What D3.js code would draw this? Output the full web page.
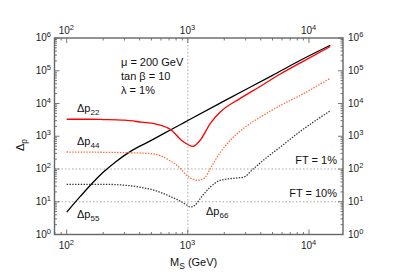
<!DOCTYPE html>
<html lang="en">
<head>
<meta charset="UTF-8">
<title>Fine tuning vs M_S</title>
<script src="https://d3js.org/d3.v7.min.js"></script>
<style>
  body { margin: 0; padding: 0; background: #fff; }
  svg { display: block; font-family: "Liberation Sans", Arial, sans-serif; }
  .tick-label { font-size: 10px; fill: #222; }
  .note { font-size: 11px; fill: #111; }
</style>
</head>
<body>
<svg id="chart"></svg>
<script>
// data (M_S in GeV, Delta values)
const mRed = [100, 150, 200, 300, 417, 537, 738, 890, 1000, 1100, 1260, 1530, 1850, 2690, 3950, 5800, 8500, 15000];
const dRed = [3300, 3300, 3240, 3090, 2690, 2400, 1510, 740, 560, 490, 740, 2450, 5500, 14100, 33100, 79400, 174000, 550000];

const mBlack = [100, 130, 161, 200, 250, 344, 490, 630, 863, 1000, 2000, 5000, 8500, 15000];
const dBlack = [4.8, 14.8, 35.5, 79, 158, 363, 724, 1200, 2240, 3020, 12000, 72400, 209000, 600000];

const mOrange = [100, 200, 300, 388, 537, 700, 863, 980, 1100, 1225, 1390, 1530, 1850, 2230, 2690, 3080, 3950, 5800, 8500, 15000];
const dOrange = [330, 324, 316, 309, 282, 186, 107, 63, 49, 45, 56, 102, 316, 741, 1410, 2090, 3800, 8700, 17800, 59000];

const mDot = [100, 200, 300, 400, 537, 738, 863, 1000, 1050, 1150, 1260, 1530, 1850, 2380, 2870, 3480, 4510, 5800, 8000, 15000];
const dDot = [34, 34, 32, 28, 22, 13.8, 10.5, 7.6, 6.9, 7.9, 12.3, 28, 45, 52, 56, 102, 229, 468, 1200, 6000];

const xMajor = [100, 1000, 10000];
const yMajor = [1, 10, 100, 1000, 10000, 100000, 1000000];
const ftLevels = [100, 10];
const ftLabels = ["FT = 1%", "FT = 10%"];

const width = 393, height = 275;
const pLeft = 54.5, pRight = 343, pTop = 38, pBottom = 234.5;

const svg = d3.select("#chart").attr("width", width).attr("height", height);

const x = d3.scaleLog().domain([79.3, 19100]).range([pLeft, pRight]);
const y = d3.scaleLog().domain([1, 1e6]).range([pBottom, pTop]);

// grid lines (dotted)
svg.selectAll(".hgrid").data(ftLevels).enter().append("line")
  .attr("x1", pLeft).attr("x2", pRight)
  .attr("y1", d => y(d)).attr("y2", d => y(d))
  .attr("stroke", "#aaa").attr("stroke-width", 1).attr("stroke-dasharray", "1.5,2");
svg.append("line")
  .attr("x1", x(1000)).attr("x2", x(1000))
  .attr("y1", pTop).attr("y2", pBottom)
  .attr("stroke", "#aaa").attr("stroke-width", 1).attr("stroke-dasharray", "1.5,2");

// ticks on all four sides, pointing in
const xTicks = x.ticks();
const yTicks = y.ticks();
const isMajor = v => Math.abs(Math.log10(v) - Math.round(Math.log10(v))) < 1e-6;
const tickG = svg.append("g").attr("stroke", "#555").attr("stroke-width", 0.8);
xTicks.forEach(v => {
  const len = isMajor(v) ? 5 : 2.5;
  tickG.append("line").attr("x1", x(v)).attr("x2", x(v)).attr("y1", pBottom).attr("y2", pBottom - len);
  tickG.append("line").attr("x1", x(v)).attr("x2", x(v)).attr("y1", pTop).attr("y2", pTop + len);
});
yTicks.forEach(v => {
  const len = isMajor(v) ? 5 : 2.5;
  tickG.append("line").attr("y1", y(v)).attr("y2", y(v)).attr("x1", pLeft).attr("x2", pLeft + len);
  tickG.append("line").attr("y1", y(v)).attr("y2", y(v)).attr("x1", pRight).attr("x2", pRight - len);
});

// frame
svg.append("rect")
  .attr("x", pLeft).attr("y", pTop)
  .attr("width", pRight - pLeft).attr("height", pBottom - pTop)
  .attr("fill", "none").attr("stroke", "#666").attr("stroke-width", 1.4);

// power-of-ten labels
function powLabel(sel, v) {
  sel.append("tspan").text("10");
  sel.append("tspan").attr("dy", -4).attr("font-size", "7.5px").text(Math.round(Math.log10(v)));
}
xMajor.forEach(v => {
  svg.append("text").attr("class", "tick-label").attr("x", x(v) - 8).attr("y", 249).call(powLabel, v);
  svg.append("text").attr("class", "tick-label").attr("x", x(v) - 8).attr("y", 34).call(powLabel, v);
});
yMajor.forEach(v => {
  svg.append("text").attr("class", "tick-label").attr("text-anchor", "end")
    .attr("x", 51).attr("y", y(v) + 3).call(powLabel, v);
  svg.append("text").attr("class", "tick-label").attr("x", 348).attr("y", y(v) + 3).call(powLabel, v);
});

// curves
const line = d3.line().x(d => x(d[0])).y(d => y(d[1])).curve(d3.curveMonotoneX);
const series = [
  { m: mBlack, d: dBlack, color: "#000", dash: null, w: 1.3 },
  { m: mDot, d: dDot, color: "#333", dash: "1.4,1.4", w: 1.3 },
  { m: mOrange, d: dOrange, color: "#ff6a33", dash: "1.4,1.4", w: 1.3 },
  { m: mRed, d: dRed, color: "#f00", dash: null, w: 1.3 }
];
series.forEach(s => {
  svg.append("path")
    .datum(d3.zip(s.m, s.d))
    .attr("d", line)
    .attr("fill", "none")
    .attr("stroke", s.color)
    .attr("stroke-width", s.w)
    .attr("stroke-dasharray", s.dash);
});

// curve labels
function deltaLabel(px, py, sub) {
  const t = svg.append("text").attr("class", "note").attr("x", px).attr("y", py).attr("font-size", "10.5px");
  t.append("tspan").text("\u0394p");
  t.append("tspan").attr("dy", 3).attr("font-size", "8px").text(sub);
}
deltaLabel(77, 112, "22");
deltaLabel(77, 145, "44");
deltaLabel(77, 218, "55");
deltaLabel(206, 215, "66");

// parameter box
const notes = ["\u03bc = 200 GeV", "tan \u03b2 = 10", "\u03bb = 1%"];
notes.forEach((n, i) => {
  svg.append("text").attr("class", "note").attr("x", 121).attr("y", 66 + i * 14).text(n);
});

// FT labels
ftLevels.forEach((v, i) => {
  svg.append("text").attr("class", "note").attr("font-size", "8.5px")
    .attr("text-anchor", "end").attr("x", 337).attr("y", y(v) - 5).text(ftLabels[i]);
});

// axis titles
const xt = svg.append("text").attr("class", "note").attr("font-size", "11.5px").attr("x", 170).attr("y", 266);
xt.append("tspan").text("M");
xt.append("tspan").attr("dy", 3).attr("font-size", "8.5px").text("S");
xt.append("tspan").attr("dy", -3).text("  (GeV)");

const yt = svg.append("text").attr("class", "note").attr("font-size", "11.5px")
  .attr("transform", "translate(24,151) rotate(-90)");
yt.append("tspan").text("\u0394");
yt.append("tspan").attr("dy", 3).attr("font-size", "8.5px").text("p");
</script>
</body>
</html>
